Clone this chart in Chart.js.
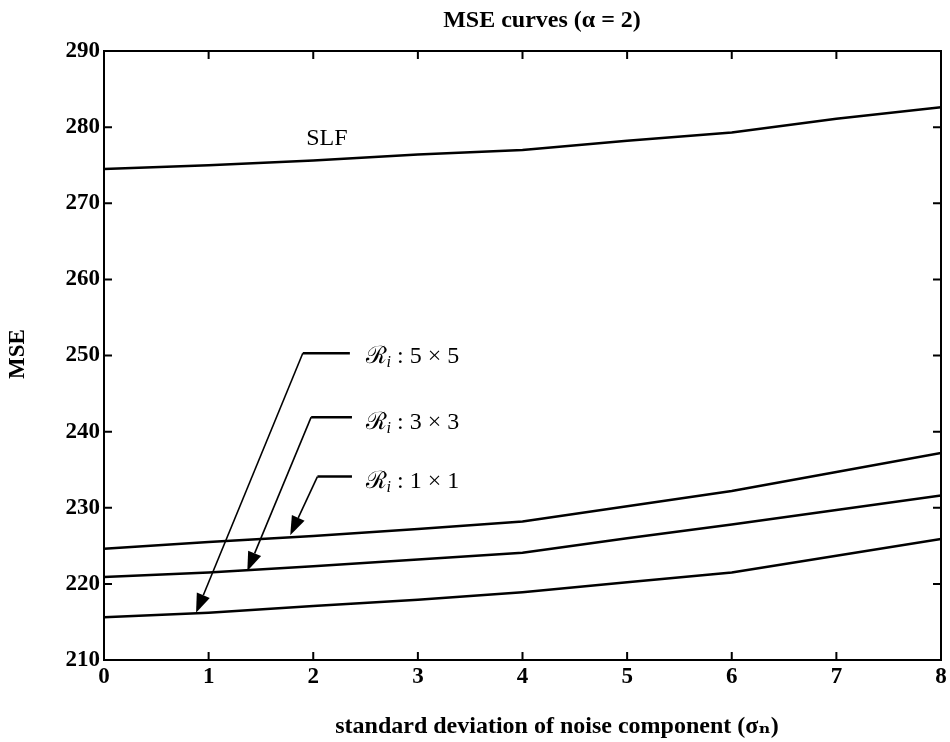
<!DOCTYPE html>
<html lang="en">
<head>
    <meta charset="UTF-8">
    <title>MSE curves</title>
    <script src="https://cdn.jsdelivr.net/npm/chart.js"></script>
    <style>
        html, body { margin: 0; padding: 0; background: #fff; }
    </style>
</head>
<body>
    <canvas id="mseChart" width="950" height="742"></canvas>

    <script>
        // x: standard deviation of noise component
        const sigmaN = [0, 1, 2, 3, 4, 5, 6, 7, 8];
        // MSE per method
        const mseSLF = [274.5, 275.0, 275.6, 276.4, 277.0, 278.2, 279.3, 281.1, 282.6];
        const mse1x1 = [224.6, 225.5, 226.3, 227.2, 228.2, 230.2, 232.2, 234.7, 237.2];
        const mse3x3 = [220.9, 221.5, 222.3, 223.2, 224.1, 226.0, 227.8, 229.7, 231.6];
        const mse5x5 = [215.6, 216.2, 217.1, 217.9, 218.9, 220.2, 221.5, 223.7, 225.9];

        const xTicks = [0, 1, 2, 3, 4, 5, 6, 7, 8];
        const yTicks = [210, 220, 230, 240, 250, 260, 270, 280, 290];

        const chartTitle = 'MSE curves (\u03B1 = 2)';
        const xTitle = 'standard deviation of noise component (\u03C3\u2099)';
        const yTitle = 'MSE';

        // callout labels (data units): tip of arrow, elbow, end of short bar, text anchor
        const callouts = [
            { size: '5 \u00D7 5', tip: [0.88, 216.2], elbow: [1.90, 250.3], end: [2.35, 250.3], text: [2.50, 249.8] },
            { size: '3 \u00D7 3', tip: [1.37, 221.7], elbow: [1.98, 241.9], end: [2.37, 241.9], text: [2.50, 241.2] },
            { size: '1 \u00D7 1', tip: [1.78, 226.4], elbow: [2.04, 234.1], end: [2.37, 234.1], text: [2.50, 233.4] }
        ];

        const serif = "'Liberation Serif', 'DejaVu Serif', serif";

        function toPoints(ys) {
            return sigmaN.map((v, i) => ({ x: v, y: ys[i] }));
        }

        function lineSet(label, ys) {
            return {
                label: label,
                data: toPoints(ys),
                borderColor: '#000',
                borderWidth: 2.5,
                pointRadius: 0,
                tension: 0,
                fill: false
            };
        }

        function arrow(ctx, x0, y0, x1, y1) {
            const ang = Math.atan2(y1 - y0, x1 - x0);
            const len = 19, half = 7;
            const bx = x1 - len * Math.cos(ang), by = y1 - len * Math.sin(ang);
            ctx.beginPath();
            ctx.moveTo(x0, y0);
            ctx.lineTo(bx, by);
            ctx.lineWidth = 1.6;
            ctx.stroke();
            ctx.beginPath();
            ctx.moveTo(x1, y1);
            ctx.lineTo(bx + half * Math.sin(ang), by - half * Math.cos(ang));
            ctx.lineTo(bx - half * Math.sin(ang), by + half * Math.cos(ang));
            ctx.closePath();
            ctx.fill();
        }

        const decor = {
            id: 'decor',
            afterDraw(chart) {
                const { ctx, chartArea: a, scales } = chart;
                const x = scales.x, y = scales.y;
                ctx.save();
                ctx.strokeStyle = '#000';
                ctx.fillStyle = '#000';

                // frame
                ctx.lineWidth = 2;
                ctx.strokeRect(a.left, a.top, a.width, a.height);

                // inward tick marks on all four sides
                const tl = 8;
                ctx.beginPath();
                yTicks.forEach(v => {
                    const py = y.getPixelForValue(v);
                    ctx.moveTo(a.left, py); ctx.lineTo(a.left + tl, py);
                    ctx.moveTo(a.right, py); ctx.lineTo(a.right - tl, py);
                });
                xTicks.forEach(v => {
                    const px = x.getPixelForValue(v);
                    ctx.moveTo(px, a.bottom); ctx.lineTo(px, a.bottom - tl);
                    ctx.moveTo(px, a.top); ctx.lineTo(px, a.top + tl);
                });
                ctx.stroke();

                // titles
                ctx.textBaseline = 'middle';
                ctx.textAlign = 'center';
                ctx.font = 'bold 24px ' + serif;
                ctx.fillText(chartTitle, 542, 21);
                ctx.fillText(xTitle, 557, 727);
                ctx.save();
                ctx.translate(18, 354);
                ctx.rotate(-Math.PI / 2);
                ctx.font = 'bold 23px ' + serif;
                ctx.fillText(yTitle, 0, 0);
                ctx.restore();

                // SLF label
                ctx.font = '24px ' + serif;
                ctx.fillText('SLF', x.getPixelForValue(2.13), y.getPixelForValue(278.5));

                // callouts
                callouts.forEach(c => {
                    const ex = x.getPixelForValue(c.elbow[0]), ey = y.getPixelForValue(c.elbow[1]);
                    const nx = x.getPixelForValue(c.end[0]);
                    ctx.beginPath();
                    ctx.moveTo(ex, ey); ctx.lineTo(nx, ey);
                    ctx.lineWidth = 2.5;
                    ctx.stroke();
                    arrow(ctx, ex, ey, x.getPixelForValue(c.tip[0]), y.getPixelForValue(c.tip[1]));

                    let tx = x.getPixelForValue(c.text[0]);
                    const ty = y.getPixelForValue(c.text[1]);
                    ctx.textAlign = 'left';
                    ctx.font = '24px ' + serif;
                    ctx.fillText('\u211B', tx, ty);
                    tx += ctx.measureText('\u211B').width;
                    ctx.font = 'italic 16px ' + serif;
                    ctx.fillText('i', tx, ty + 6);
                    tx += ctx.measureText('i').width;
                    ctx.font = '24px ' + serif;
                    ctx.fillText(' : ' + c.size, tx, ty);
                });
                ctx.restore();
            }
        };

        const tickFont = { family: serif, size: 23, weight: 'bold' };

        new Chart(document.getElementById('mseChart').getContext('2d'), {
            type: 'line',
            data: {
                datasets: [
                    lineSet('SLF', mseSLF),
                    lineSet('R 1x1', mse1x1),
                    lineSet('R 3x3', mse3x3),
                    lineSet('R 5x5', mse5x5)
                ]
            },
            options: {
                responsive: false,
                animation: false,
                devicePixelRatio: 1,
                layout: { padding: { top: 51, right: 9, left: 0, bottom: 0 } },
                plugins: { legend: { display: false }, tooltip: { enabled: false } },
                scales: {
                    x: {
                        type: 'linear',
                        min: 0,
                        max: 8,
                        afterBuildTicks: s => { s.ticks = xTicks.map(v => ({ value: v })); },
                        afterFit: s => { s.height = 82; },
                        grid: { display: false, drawTicks: false },
                        border: { display: false },
                        ticks: { font: tickFont, color: '#000', padding: 3, maxRotation: 0 }
                    },
                    y: {
                        min: 210,
                        max: 290,
                        afterBuildTicks: s => { s.ticks = yTicks.map(v => ({ value: v })); },
                        afterFit: s => { s.width = 104; },
                        grid: { display: false, drawTicks: false },
                        border: { display: false },
                        ticks: { font: tickFont, color: '#000', padding: 4 }
                    }
                }
            },
            plugins: [decor]
        });
    </script>
</body>
</html>
